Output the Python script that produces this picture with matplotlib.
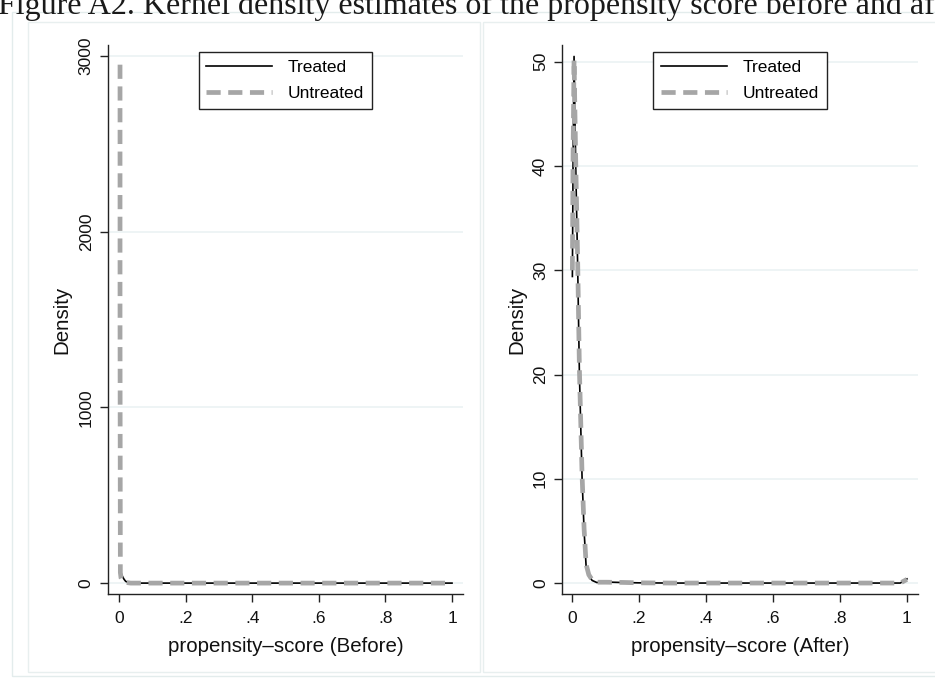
import matplotlib
matplotlib.use("Agg")
import matplotlib.pyplot as plt
from matplotlib.patches import Rectangle

plt.rcParams['font.family'] = ['Liberation Sans', 'DejaVu Sans']

# ---------------- data ----------------
title_text = "Figure A2. Kernel density estimates of the propensity score before and after"
series_names = ["Treated", "Untreated"]

before_x_treated = [0.005, 0.010, 0.015, 0.020, 0.030, 0.040, 0.10, 0.20, 0.40, 0.60, 0.80, 1.00]
before_y_treated = [60, 40, 22, 10, 2, 0, 0, 0, 0, 0, 0, 0]
before_x_untreated = [0.003, 0.003, 0.004, 0.006, 0.010, 0.020, 0.035, 0.10, 0.20, 0.40, 0.60, 0.80, 1.00]
before_y_untreated = [2950, 1500, 60, 30, 12, 4, 0, 0, 0, 0, 0, 0, 0]

after_x_treated = [0.001, 0.003, 0.006, 0.011, 0.017, 0.022, 0.030, 0.036, 0.042, 0.050, 0.060, 0.074,
                   0.10, 0.15, 0.20, 0.30, 0.40, 0.50, 0.60, 0.70, 0.80, 0.90, 0.98, 1.00]
after_y_treated = [29.4, 40.0, 50.5, 40.0, 30.0, 20.0, 10.0, 5.0, 1.6, 0.7, 0.25, 0.05,
                   0.1, 0.05, 0.02, 0.0, 0.0, 0.0, 0.0, 0.0, 0.0, 0.0, 0.0, 0.4]
after_x_untreated = [0.001, 0.003, 0.006, 0.011, 0.017, 0.022, 0.030, 0.036, 0.042, 0.050, 0.060, 0.074,
                     0.10, 0.15, 0.20, 0.30, 0.40, 0.50, 0.60, 0.70, 0.80, 0.90, 0.98, 1.00]
after_y_untreated = [30.0, 41.0, 50.2, 40.5, 30.5, 20.5, 10.3, 5.2, 1.8, 0.8, 0.3, 0.08,
                     0.08, 0.06, 0.02, 0.0, 0.0, 0.0, 0.0, 0.0, 0.0, 0.0, 0.0, 0.35]

x_ticks = [0, 0.2, 0.4, 0.6, 0.8, 1.0]
x_ticklabels = ["0", ".2", ".4", ".6", ".8", "1"]
before_y_ticks = [0, 1000, 2000, 3000]
after_y_ticks = [0, 10, 20, 30, 40, 50]
xlabel_before = "propensity\u2013score (Before)"
xlabel_after = "propensity\u2013score (After)"
ylabel = "Density"

# ---------------- figure ----------------
W, H = 935, 682
fig = plt.figure(figsize=(W / 100, H / 100), dpi=100)
fig.patch.set_facecolor("white")

def fig_rect(x0, y0, x1, y1, ec):
    fig.patches.append(Rectangle((x0 / W, 1 - y1 / H), (x1 - x0) / W, (y1 - y0) / H,
                                 transform=fig.transFigure, fill=False, ec=ec, lw=1.0))

fig_rect(12, 12, 960, 676, "#e3ecec")
fig_rect(28, 22, 480, 672, "#e8efef")
fig_rect(483, 22, 960, 672, "#e8efef")

fig.text(-2 / W, 1 - 14 / H, title_text, fontsize=23, family=["Liberation Serif", "DejaVu Serif"],
         ha="left", va="baseline", color="#1a1a1a")

gray = "#a6a6a6"

def setup(ax, xs_t, ys_t, xs_u, ys_u, yticks, ylim, xlim, xlabel):
    ax.plot(xs_t, ys_t, color="black", lw=1.2, label=series_names[0], zorder=3)
    ax.plot(xs_u, ys_u, color=gray, lw=3.4, dashes=(3.0, 1.6), label=series_names[1], zorder=4)
    ax.set_xlim(*xlim)
    ax.set_ylim(*ylim)
    ax.set_xticks(x_ticks)
    ax.set_xticklabels(x_ticklabels)
    ax.set_yticks(yticks)
    ax.set_yticklabels([str(t) for t in yticks], rotation=90, va="center")
    for s in ["top", "right"]:
        ax.spines[s].set_visible(False)
    for s in ["left", "bottom"]:
        ax.spines[s].set_color("#222222")
        ax.spines[s].set_linewidth(1.0)
    ax.tick_params(axis="both", direction="out", length=6, width=1.0, color="#222222",
                   labelsize=12.5, labelcolor="#111111")
    ax.tick_params(axis="x", pad=6)
    ax.tick_params(axis="y", pad=4)
    ax.yaxis.grid(True, color="#e9f1f2", lw=1.1)
    ax.set_axisbelow(True)
    ax.set_xlabel(xlabel, fontsize=14.8, labelpad=8, color="#111111")
    ax.set_ylabel(ylabel, fontsize=14.8, labelpad=5, color="#111111")
    leg = ax.legend(loc="upper center", bbox_to_anchor=(0.5, 0.987), borderaxespad=0,
                    fontsize=12.5, handlelength=3.8, handletextpad=0.9, labelspacing=0.62,
                    fancybox=False, framealpha=1, edgecolor="#222222", borderpad=0.45)
    leg.get_frame().set_linewidth(1.0)

ax1 = fig.add_axes([107.7 / W, 1 - 594 / H, (463 - 107.7) / W, (594 - 45) / H])
setup(ax1, before_x_treated, before_y_treated, before_x_untreated, before_y_untreated,
      before_y_ticks, (-62, 3062), (-0.034, 1.033), xlabel_before)

ax2 = fig.add_axes([562 / W, 1 - 594 / H, (918 - 562) / W, (594 - 45) / H])
setup(ax2, after_x_treated, after_y_treated, after_x_untreated, after_y_untreated,
      after_y_ticks, (-1.05, 51.6), (-0.03, 1.033), xlabel_after)

fig.savefig("out.png", dpi=100, facecolor="white")
